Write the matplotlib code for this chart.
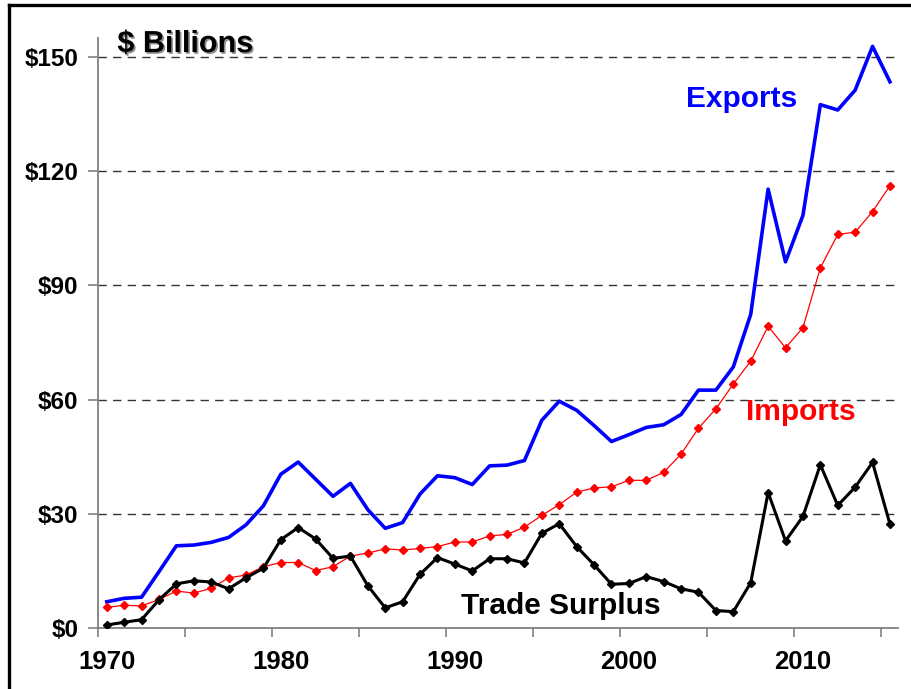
import matplotlib
matplotlib.use("Agg")
import matplotlib.pyplot as plt
import matplotlib.patheffects as pe
from matplotlib.lines import Line2D
import numpy as np

years = np.arange(1970, 2016)

exports = [6.9, 7.8, 8.1, 14.8, 21.6, 21.8, 22.5, 23.8, 27.1, 32.1,
           40.4, 43.6, 39.1, 34.6, 38.0, 31.1, 26.2, 27.7, 35.2, 40.0,
           39.5, 37.7, 42.6, 42.8, 44.0, 54.6, 59.6, 57.2, 53.2, 49.0,
           50.8, 52.7, 53.4, 56.1, 62.5, 62.5, 68.6, 82.4, 115.3, 96.2,
           108.4, 137.5, 136.1, 141.3, 152.8, 143.5]

imports = [5.4, 6.0, 5.8, 7.5, 9.7, 9.2, 10.4, 13.2, 13.9, 16.1,
           17.2, 17.2, 15.1, 16.1, 18.9, 19.7, 20.8, 20.5, 20.9, 21.4,
           22.6, 22.6, 24.2, 24.6, 26.5, 29.6, 32.4, 35.7, 36.8, 37.1,
           38.8, 38.8, 40.9, 45.7, 52.5, 57.6, 64.1, 70.1, 79.3, 73.6,
           78.9, 94.6, 103.4, 104.0, 109.4, 116.2]

surplus = [0.8, 1.5, 2.2, 7.4, 11.6, 12.4, 12.1, 10.3, 13.2, 15.7,
           23.2, 26.4, 23.4, 18.3, 18.9, 11.1, 5.3, 6.9, 14.1, 18.5,
           16.8, 15.0, 18.2, 18.2, 17.1, 24.9, 27.4, 21.4, 16.6, 11.5,
           11.7, 13.5, 12.2, 10.3, 9.4, 4.6, 4.3, 11.9, 35.6, 22.9,
           29.3, 42.9, 32.2, 37.0, 43.5, 27.3]

y_ticks = [0, 30, 60, 90, 120, 150]
y_labels = ["$0", "$30", "$60", "$90", "$120", "$150"]
x_label_years = [1970, 1980, 1990, 2000, 2010]

plt.rcParams["font.family"] = ["Liberation Sans", "DejaVu Sans"]

fig = plt.figure(figsize=(9.12, 6.89), dpi=100)
ax = fig.add_axes([0.1075, 0.0885, 0.8771, 0.8563])

for v in y_ticks[1:]:
    ax.axhline(v, color="#333333", linestyle=(0, (6, 4.5)), linewidth=1.0, zorder=1)

ax.plot(years, exports, color="#0000FF", linewidth=2.6, zorder=3)
ax.plot(years, imports, color="#FF0000", linewidth=0.9, marker="D",
        markersize=4.2, zorder=4)
ax.plot(years, surplus, color="black", linewidth=2.2, marker="D",
        markersize=3.6, zorder=5)

ax.set_xlim(1969.54, 2015.46)
ax.set_ylim(0, 155)

ax.set_yticks(y_ticks, y_labels)
ax.set_xticks(x_label_years, [str(y) for y in x_label_years])
ax.set_xticks(np.arange(1969.5, 2015, 5), minor=True)

ax.tick_params(axis="y", direction="out", length=7, width=1.2,
               color="#808080", pad=7, labelsize=17.5)
ax.tick_params(axis="x", which="major", length=0, pad=16, labelsize=18.5)
ax.tick_params(axis="x", which="minor", direction="out", length=6.5,
               width=1.2, color="#808080")
for lbl in ax.get_yticklabels():
    lbl.set_fontweight("bold")
for lbl in ax.get_xticklabels():
    lbl.set_fontweight("bold")
    lbl.set_family(["Liberation Sans Narrow", "Liberation Sans"])

for side in ["top", "right"]:
    ax.spines[side].set_visible(False)
for side in ["left", "bottom"]:
    ax.spines[side].set_color("#808080")
    ax.spines[side].set_linewidth(1.3)

ax.text(1974.5, 153.4, "$ Billions", fontsize=22, fontweight="bold",
        ha="center", va="center",
        path_effects=[pe.SimplePatchShadow(offset=(1.2, -1.2),
                                           shadow_rgbFace="#808080", alpha=0.9),
                      pe.Normal()])

ax.text(2006.5, 139, "Exports", color="#0000FF", fontsize=21.5,
        fontweight="bold", ha="center", va="center")
ax.text(2009.9, 56.8, "Imports", color="#FF0000", fontsize=21.5,
        fontweight="bold", ha="center", va="center")
ax.text(1996.1, 5.8, "Trade Surplus", color="black", fontsize=21.5,
        fontweight="bold", ha="center", va="center")

# slide frame, only the left and top edges fall inside the picture
fig.add_artist(Line2D([9 / 912, 9 / 912], [0, 1 - 5 / 689], color="black",
                      linewidth=2.4, transform=fig.transFigure))
fig.add_artist(Line2D([9 / 912, 1], [1 - 5 / 689, 1 - 5 / 689], color="black",
                      linewidth=2.4, transform=fig.transFigure))

fig.savefig("out.png", dpi=100)
